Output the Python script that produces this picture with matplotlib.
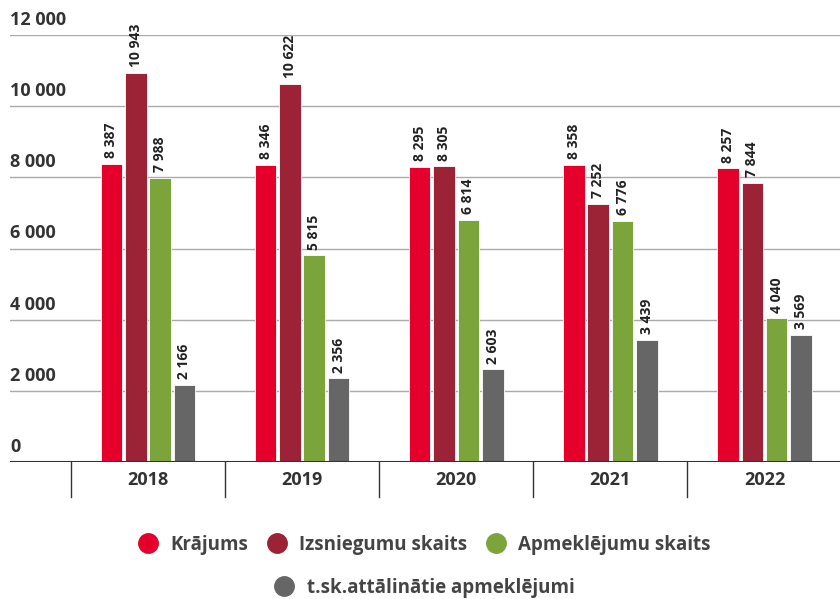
import matplotlib.pyplot as plt
import numpy as np
from matplotlib.lines import Line2D

plt.rcParams['font.family'] = ['Open Sans', 'DejaVu Sans']

years = ['2018', '2019', '2020', '2021', '2022']
krajums = [8387, 8346, 8295, 8358, 8257]
izsniegumi = [10943, 10622, 8305, 7252, 7844]
apmeklejumi = [7988, 5815, 6814, 6776, 4040]
attalinatie = [2166, 2356, 2603, 3439, 3569]

series = [krajums, izsniegumi, apmeklejumi, attalinatie]
names = ['Krājums', 'Izsniegumu skaits', 'Apmeklējumu skaits', 't.sk.attālinātie apmeklējumi']
colors = ['#e4002b', '#9b2335', '#7ba53a', '#666666']

def fmt(v):
    return f'{v:,}'.replace(',', ' ')

fig = plt.figure(figsize=(8.4, 5.99), dpi=100)
ax = fig.add_axes([10/840, 1-462/599, 830/840, 427/599])

x = np.arange(len(years))
w = 0.14
step = 0.158
for i, (vals, c) in enumerate(zip(series, colors)):
    pos = x + (i - 1.5) * step
    ax.bar(pos, vals, width=w, color=c, edgecolor='white', linewidth=0.6, zorder=3)
    for p, v in zip(pos, vals):
        ax.annotate(fmt(v), (p, v), xytext=(0, 4), textcoords='offset points',
                    rotation=90, ha='center', va='bottom', fontsize=10,
                    fontweight='bold', color='#222222')

ax.set_ylim(0, 12000)
ax.set_xlim(-0.895, 4.49)
ticks = np.arange(0, 12001, 2000)
ax.set_yticks(ticks)
ax.set_yticklabels([])
ax.tick_params(left=False, bottom=False, labelbottom=False)
for t in ticks:
    ax.axhline(t, color='#aaaaaa', linewidth=1, zorder=1)
    ax.text(0, t + 170, fmt(t), transform=ax.get_yaxis_transform(),
            ha='left', va='bottom', fontsize=13, fontweight='bold', color='#333333')
for s in ax.spines.values():
    s.set_visible(False)
ax.axhline(0, color='#333333', linewidth=1.5, zorder=4)

trans = ax.get_xaxis_transform()
for b in np.arange(len(years) + 1) - 0.5:
    if b < 4.4:
        ax.add_line(Line2D([b, b], [0, -0.082], transform=trans, color='#333333',
                           linewidth=1, clip_on=False))
for xi, y in zip(x, years):
    ax.text(xi, -0.043, y, transform=trans, ha='center', va='center',
            fontsize=13, fontweight='bold', color='#333333')

handles = [Line2D([], [], marker='o', linestyle='', markersize=14, color=c) for c in colors]
fig.legend(handles[:3], names[:3], loc='center', bbox_to_anchor=(0.5, 1-545/599), ncol=3,
           frameon=False, prop={'size': 13.5, 'weight': 'bold'}, labelcolor='#444444',
           handletextpad=0.2, columnspacing=0.5)
fig.legend(handles[3:], names[3:], loc='center', bbox_to_anchor=(0.5, 1-588/599), ncol=1,
           frameon=False, prop={'size': 13.5, 'weight': 'bold'}, labelcolor='#444444',
           handletextpad=0.2)

fig.savefig('out.png', dpi=100)
